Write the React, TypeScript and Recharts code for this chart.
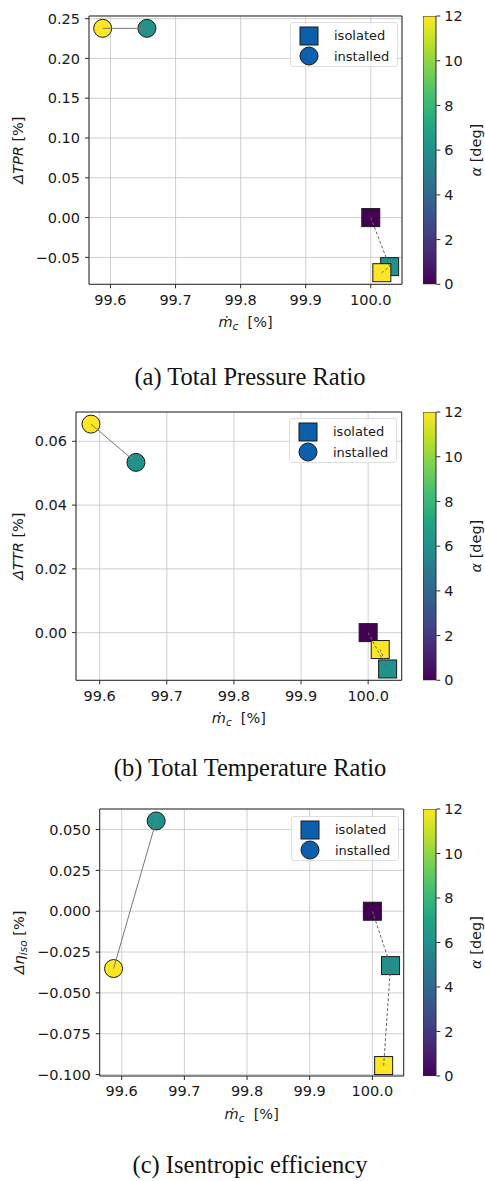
import React from 'react';
import { ScatterChart, Scatter, XAxis, YAxis, CartesianGrid, ReferenceLine, Legend, BarChart, Bar } from 'recharts';

// angle of attack for each operating point
const ALPHA_ISOLATED = [0, 6, 12];
const ALPHA_INSTALLED = [6, 12];
const ALPHA_TICKS = [0, 2, 4, 6, 8, 10, 12];
const MDOT_TICKS = [99.6, 99.7, 99.8, 99.9, 100.0];

// (a) total pressure ratio
const TPR_ISO_MDOT = [100.0, 100.029, 100.017];
const TPR_ISO = [0.0, -0.0616, -0.0692];
const TPR_INST_MDOT = [99.656, 99.588];
const TPR_INST = [0.2378, 0.2378];
const TPR_TICKS = [-0.05, 0.0, 0.05, 0.1, 0.15, 0.2, 0.25];

// (b) total temperature ratio
const TTR_ISO_MDOT = [100.0, 100.029, 100.018];
const TTR_ISO = [0.0, -0.0114, -0.0053];
const TTR_INST_MDOT = [99.654, 99.587];
const TTR_INST = [0.0534, 0.0654];
const TTR_TICKS = [0.0, 0.02, 0.04, 0.06];

// (c) isentropic efficiency
const ETA_ISO_MDOT = [100.0, 100.029, 100.018];
const ETA_ISO = [0.0, -0.0333, -0.0945];
const ETA_INST_MDOT = [99.655, 99.587];
const ETA_INST = [0.0553, -0.0351];
const ETA_TICKS = [-0.1, -0.075, -0.05, -0.025, 0.0, 0.025, 0.05];

const FONT = '"DejaVu Sans", sans-serif';
const INK = '#1a1a1a';
const LEGEND_BLUE = '#0b5fad';
const VIRIDIS = ['#440154', '#482475', '#414487', '#355f8d', '#2a788e', '#21918c', '#22a884', '#44bf70', '#7ad151', '#bddf26', '#fde725'];

const hex = (c: string) => [1, 3, 5].map((i) => parseInt(c.slice(i, i + 2), 16));
function viridis(a: number) {
  const t = Math.max(0, Math.min(1, a / 12)) * (VIRIDIS.length - 1);
  const i = Math.min(Math.floor(t), VIRIDIS.length - 2);
  const f = t - i;
  const c0 = hex(VIRIDIS[i]);
  const c1 = hex(VIRIDIS[i + 1]);
  const c = c0.map((v, k) => Math.round(v + (c1[k] - v) * f));
  return `rgb(${c[0]},${c[1]},${c[2]})`;
}

const toPoints = (xs: number[], ys: number[], alphas: number[]) => alphas.map((a, i) => ({ x: xs[i], y: ys[i], alpha: a }));

const fmt = (d: number) => (v: number) => {
  const s = Math.abs(v).toFixed(d);
  return v < -1e-9 ? '\u2212' + s : s;
};

const Square = (p: any) => (
  <rect x={p.cx - 9} y={p.cy - 9} width={18} height={18} fill={viridis(p.payload.alpha)} stroke={INK} strokeWidth={1} />
);
const Dot = (p: any) => <circle cx={p.cx} cy={p.cy} r={9} fill={viridis(p.payload.alpha)} stroke={INK} strokeWidth={1} />;
const NoMark = () => <g />;

const tickStyle = { fill: INK, fontSize: 14.5, fontFamily: FONT };

const XLabel = (props: any) => {
  const vb = props.viewBox;
  return (
    <text x={vb.x + vb.width / 2} y={vb.y + 43} textAnchor="middle" fill={INK} fontSize={14.5} fontFamily={FONT}>
      <tspan fontStyle="italic">{'\u1E41'}</tspan>
      <tspan fontStyle="italic" fontSize={10.5} dy={3}>c</tspan>
      <tspan dy={-3}>{'\u00A0\u00A0[%]'}</tspan>
    </text>
  );
};

const makeYLabel = (kind: string) => (props: any) => {
  const vb = props.viewBox;
  const cx = 23.5;
  const cy = vb.y + vb.height / 2;
  return (
    <text x={cx} y={cy} transform={`rotate(-90 ${cx} ${cy})`} textAnchor="middle" fill={INK} fontSize={14.5} fontFamily={FONT}>
      {kind === 'eta' ? (
        <>
          <tspan fontStyle="italic">{'\u0394\u03B7'}</tspan>
          <tspan fontStyle="italic" fontSize={10.5} dy={3}>iso</tspan>
          <tspan dy={-3}>{' [%]'}</tspan>
        </>
      ) : (
        <>
          <tspan fontStyle="italic">{'\u0394' + kind}</tspan>
          <tspan>{' [%]'}</tspan>
        </>
      )}
    </text>
  );
};

const CbLabel = (props: any) => {
  const vb = props.viewBox;
  const cx = vb.x + 44.5;
  const cy = vb.y + vb.height / 2;
  return (
    <text x={cx} y={cy} transform={`rotate(-90 ${cx} ${cy})`} textAnchor="middle" fill={INK} fontSize={14.5} fontFamily={FONT}>
      <tspan fontStyle="italic">{'\u03B1'}</tspan>
      <tspan>{' [deg]'}</tspan>
    </text>
  );
};

const LegendBox = () => (
  <div style={{ boxSizing: 'border-box', width: 108, height: 45, border: '1px solid #dedede', borderRadius: 3, background: 'rgba(255,255,255,0.85)', position: 'relative' }}>
    <svg width={108} height={45} style={{ position: 'absolute', left: -1, top: -1 }}>
      <rect x={10} y={5} width={18} height={18} fill={LEGEND_BLUE} stroke={INK} strokeWidth={1} />
      <circle cx={19} cy={34} r={9} fill={LEGEND_BLUE} stroke={INK} strokeWidth={1} />
      <text x={44} y={17.5} fill={INK} fontSize={13} fontFamily={FONT}>isolated</text>
      <text x={44} y={38.5} fill={INK} fontSize={13} fontFamily={FONT}>installed</text>
    </svg>
  </div>
);

type PanelCfg = {
  id: string;
  plot: { left: number; top: number; right: number; bottom: number };
  xDomain: [number, number];
  yDomain: [number, number];
  yTicks: number[];
  yDecimals: number;
  yKind: string;
  iso: { x: number; y: number; alpha: number }[];
  inst: { x: number; y: number; alpha: number }[];
  legend: { left: number; top: number };
  caption: string;
  captionBaseline: number;
};

const PANELS: PanelCfg[] = [
  {
    id: 'a',
    plot: { left: 89, top: 15.7, right: 402, bottom: 284 },
    xDomain: [99.567, 100.048],
    yDomain: [-0.0838, 0.2533],
    yTicks: TPR_TICKS,
    yDecimals: 2,
    yKind: 'TPR',
    iso: toPoints(TPR_ISO_MDOT, TPR_ISO, ALPHA_ISOLATED),
    inst: toPoints(TPR_INST_MDOT, TPR_INST, ALPHA_INSTALLED),
    legend: { left: 290, top: 22 },
    caption: '(a) Total Pressure Ratio',
    captionBaseline: 386,
  },
  {
    id: 'b',
    plot: { left: 76, top: 411.7, right: 401.7, bottom: 680 },
    xDomain: [99.5647, 100.05],
    yDomain: [-0.01495, 0.0692],
    yTicks: TTR_TICKS,
    yDecimals: 2,
    yKind: 'TTR',
    iso: toPoints(TTR_ISO_MDOT, TTR_ISO, ALPHA_ISOLATED),
    inst: toPoints(TTR_INST_MDOT, TTR_INST, ALPHA_INSTALLED),
    legend: { left: 289, top: 418.3 },
    caption: '(b) Total Temperature Ratio',
    captionBaseline: 777,
  },
  {
    id: 'c',
    plot: { left: 99.7, top: 808.7, right: 403.7, bottom: 1075.7 },
    xDomain: [99.5649, 100.05],
    yDomain: [-0.1009, 0.0626],
    yTicks: ETA_TICKS,
    yDecimals: 3,
    yKind: 'eta',
    iso: toPoints(ETA_ISO_MDOT, ETA_ISO, ALPHA_ISOLATED),
    inst: toPoints(ETA_INST_MDOT, ETA_INST, ALPHA_INSTALLED),
    legend: { left: 290.7, top: 815.7 },
    caption: '(c) Isentropic efficiency',
    captionBaseline: 1174,
  },
];

const CB_LEFT = 422.7;
const CB_WIDTH = 13.3;
const CAPTION_SIZE = 24.5;

function Panel({ cfg }: { cfg: PanelCfg }) {
  const { plot } = cfg;
  const chartTop = plot.top - 10;
  const chartW = 420;
  const chartH = plot.bottom - plot.top + 10 + 60;
  const gradId = `viridis-${cfg.id}`;

  return (
    <>
      <div style={{ position: 'absolute', left: 0, top: chartTop }}>
        <ScatterChart width={chartW} height={chartH} margin={{ top: 10, right: chartW - plot.right, bottom: 0, left: 0 }}>
          <CartesianGrid stroke="#c4c4c4" strokeWidth={0.8} />
          <XAxis
            type="number"
            dataKey="x"
            domain={cfg.xDomain}
            allowDataOverflow
            ticks={MDOT_TICKS}
            tickFormatter={fmt(1)}
            height={60}
            tickSize={4}
            tickMargin={6}
            stroke="#2a2a2a"
            tick={tickStyle}
            label={{ content: XLabel }}
          />
          <YAxis
            type="number"
            dataKey="y"
            domain={cfg.yDomain}
            allowDataOverflow
            ticks={cfg.yTicks}
            tickFormatter={fmt(cfg.yDecimals)}
            width={plot.left}
            tickSize={4}
            tickMargin={5}
            stroke="#2a2a2a"
            tick={tickStyle}
            label={{ content: makeYLabel(cfg.yKind) }}
          />
          <ReferenceLine y={cfg.yDomain[1]} stroke="#2a2a2a" />
          <ReferenceLine x={cfg.xDomain[1]} stroke="#2a2a2a" />
          <Scatter data={cfg.iso} shape={Square} isAnimationActive={false} />
          <Scatter data={cfg.inst} shape={Dot} isAnimationActive={false} />
          <Scatter data={cfg.iso} shape={NoMark} line={{ stroke: '#666', strokeWidth: 1, strokeDasharray: '3 2' }} isAnimationActive={false} />
          <Scatter data={cfg.inst} shape={NoMark} line={{ stroke: '#777', strokeWidth: 1 }} isAnimationActive={false} />
          <Legend
            layout="vertical"
            align="center"
            verticalAlign="middle"
            wrapperStyle={{ left: cfg.legend.left, top: cfg.legend.top - chartTop, width: 108, height: 45 }}
            content={LegendBox}
          />
        </ScatterChart>
      </div>

      <div style={{ position: 'absolute', left: CB_LEFT, top: chartTop }}>
        <BarChart
          width={CB_WIDTH + 62}
          height={plot.bottom - plot.top + 20}
          data={[{ name: 'alpha', v: ALPHA_TICKS[ALPHA_TICKS.length - 1] }]}
          margin={{ top: 10, bottom: 10, left: 0, right: 0 }}
          barCategoryGap={0}
        >
          <defs>
            <linearGradient id={gradId} x1="0" y1="1" x2="0" y2="0">
              {VIRIDIS.map((c, i) => (
                <stop key={i} offset={i / (VIRIDIS.length - 1)} stopColor={c} />
              ))}
            </linearGradient>
          </defs>
          <XAxis dataKey="name" hide />
          <YAxis
            type="number"
            orientation="right"
            domain={[0, 12]}
            allowDataOverflow
            ticks={ALPHA_TICKS}
            width={62}
            tickSize={4}
            tickMargin={4}
            stroke="#2a2a2a"
            axisLine={false}
            tick={tickStyle}
            label={{ content: CbLabel }}
          />
          <Bar dataKey="v" fill={`url(#${gradId})`} stroke="#2a2a2a" strokeWidth={1} isAnimationActive={false} />
        </BarChart>
      </div>

      <div
        style={{
          position: 'absolute',
          left: 0,
          width: 500,
          top: cfg.captionBaseline - 0.8375 * CAPTION_SIZE,
          textAlign: 'center',
          fontFamily: '"Liberation Serif", "Times New Roman", serif',
          fontSize: CAPTION_SIZE,
          lineHeight: `${CAPTION_SIZE}px`,
          color: '#111',
          whiteSpace: 'nowrap',
        }}
      >
        {cfg.caption}
      </div>
    </>
  );
}

export default function App() {
  return (
    <div style={{ position: 'absolute', left: 0, top: 0, width: 485, height: 1181, background: '#fff', overflow: 'hidden' }}>
      {PANELS.map((p) => (
        <Panel key={p.id} cfg={p} />
      ))}
    </div>
  );
}
